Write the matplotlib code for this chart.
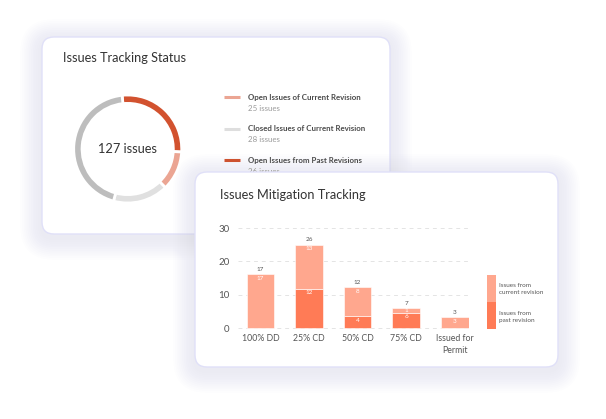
import matplotlib.pyplot as plt
from matplotlib.patches import FancyBboxPatch, Rectangle

plt.rcParams['font.family'] = ['Lato', 'DejaVu Sans']

W, H = 606, 419

# donut card
status_labels = ['Open Issues of Current Revision', 'Closed Issues of Current Revision',
                 'Open Issues from Past Revisions']
status_counts = ['25 issues', '28 issues', '26 issues']
status_colors = ['#EBA593', '#DEDEDE', '#D2522F']
# arcs in clockwise order from the top: past open, current open, current closed, past closed
donut_values = [35, 15, 21, 56]
donut_colors = ['#D2522F', '#EBA593', '#E0E0E0', '#BDBDBD']
total_label = '127 issues'

# bar card
stages = ['100% DD', '25% CD', '50% CD', '75% CD', 'Issued for\nPermit']
past = [0, 11.8, 3.6, 4.6, 0]
current = [16.2, 13.2, 8.7, 1.4, 3.2]
total_text = ['17', '26', '12', '7', '3']
current_text = ['17', '13', '8', '1', '3']
past_text = ['', '12', '4', '6', '']
light_c = '#FFA78E'
dark_c = '#FF7B56'


def px_axes(x0, y0, x1, y1):
    return fig.add_axes([x0 / W, 1 - y1 / H, (x1 - x0) / W, (y1 - y0) / H])


def card(ax, x0, y0, x1, y1, z):
    # soft shadow
    for i in range(12):
        p = 2 + i * 1.8
        ax.add_patch(FancyBboxPatch((x0 - p, y0 - p + 4), x1 - x0 + 2 * p, y1 - y0 + 2 * p,
                                    boxstyle='round,pad=0,rounding_size=%g' % (12 + p),
                                    fc='#70709a', ec='none', alpha=0.007, zorder=z))
    ax.add_patch(FancyBboxPatch((x0, y0), x1 - x0, y1 - y0,
                                boxstyle='round,pad=0,rounding_size=12',
                                fc='white', ec='#E0E0F8', lw=1.0, zorder=z + 0.5))


fig = plt.figure(figsize=(W / 100, H / 100), dpi=100)
bg = fig.add_axes([0, 0, 1, 1])
bg.set_xlim(0, W)
bg.set_ylim(H, 0)
bg.axis('off')

# ---- card 1
card(bg, 42, 37, 390, 234, 1)
bg.text(63, 58, 'Issues Tracking Status', fontsize=9.2, color='#333333', va='center', zorder=3)
for i, (lab, cnt, col) in enumerate(zip(status_labels, status_counts, status_colors)):
    y = 97 + i * 31.6
    bg.plot([224, 240], [y, y], color=col, lw=2.2, solid_capstyle='butt', zorder=3)
    bg.text(248, y, lab, fontsize=5.7, fontweight='bold', color='#4a4a4a', va='center', zorder=3)
    bg.text(248, y + 11.3, cnt, fontsize=5.7, color='#9a9a9a', va='center', zorder=3)

dax = px_axes(127.7 - 54, 149 - 54, 127.7 + 54, 149 + 54)
dax.pie(donut_values, colors=donut_colors, startangle=96, counterclock=False,
        radius=1, wedgeprops=dict(width=0.155, edgecolor='white', linewidth=2.0))
dax.set_xlim(-1, 1)
dax.set_ylim(-1, 1)
dax.set_aspect('equal')
dax.axis('off')
dax.text(0, 0, total_label, ha='center', va='center', fontsize=9.2, color='#333333')

# ---- card 2
card(bg, 195, 172, 558, 367, 5)
bg.text(220, 195, 'Issues Mitigation Tracking', fontsize=9.2, color='#333333', va='center', zorder=7)

# legend for bars
bg.add_patch(Rectangle((487, 275), 9, 27, fc=light_c, ec='none', zorder=7))
bg.add_patch(Rectangle((487, 302), 9, 27, fc=dark_c, ec='none', zorder=7))
bg.text(499, 288.5, 'Issues from\ncurrent revision', fontsize=4.6, color='#555555',
        va='center', linespacing=1.5, zorder=7)
bg.text(499, 316.5, 'Issues from\npast revision', fontsize=4.6, color='#555555',
        va='center', linespacing=1.5, zorder=7)

bax = px_axes(238, 228 - 0.6 * 10 / 3, 469, 328 + 0.6 * 10 / 3)
x = list(range(len(stages)))
bax.bar(x, past, width=0.57, color=dark_c, edgecolor='white', linewidth=0.4, zorder=2)
bax.bar(x, current, width=0.57, bottom=past, color=light_c, edgecolor='white', linewidth=0.4, zorder=2)
for i in x:
    top = past[i] + current[i]
    bax.text(i, top + 1.5, total_text[i], ha='center', va='center', fontsize=4.6, color='#555555')
    cy = top - min(1.2, current[i] / 2)
    bax.text(i, cy, current_text[i], ha='center', va='center', fontsize=4.6, color='white', zorder=3)
    if past_text[i]:
        bax.text(i, past[i] - 1.2, past_text[i], ha='center', va='center', fontsize=4.6,
                 color='white', zorder=3)
bax.set_xlim(-0.46, 4.29)
bax.set_ylim(-0.6, 30.6)
bax.set_yticks([0, 10, 20, 30])
bax.set_xticks(x)
bax.set_xticklabels(stages)
bax.grid(axis='y', color='#E4E4E4', linestyle=(0, (4, 4)), linewidth=0.7, zorder=0)
bax.tick_params(length=0)
bax.tick_params(axis='y', labelsize=7, labelcolor='#555555', pad=6)
bax.tick_params(axis='x', labelsize=6.3, labelcolor='#555555', pad=3)
for lab in bax.get_xticklabels():
    lab.set_linespacing(1.4)
for s in bax.spines.values():
    s.set_visible(False)
bax.patch.set_alpha(0)

fig.savefig('out.png', dpi=100)
